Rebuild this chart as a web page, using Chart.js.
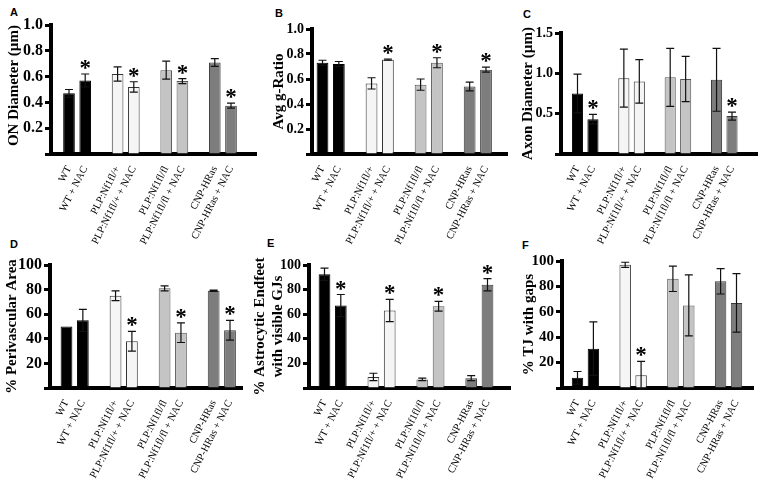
<!DOCTYPE html>
<html>
<head>
<meta charset="utf-8">
<script src="https://cdn.jsdelivr.net/npm/chart.js@4"></script>
<style>
  body { margin: 0; background: #fff; width: 762px; height: 481px; position: relative; overflow: hidden; }
  .panel { position: absolute; }
  .letter { position: absolute; font: bold 11px "Liberation Sans", Arial, sans-serif; color: #000; }
</style>
</head>
<body>
<div class="letter" style="left:10px;top:6px">A</div>
<div class="letter" style="left:275px;top:7px">B</div>
<div class="letter" style="left:523px;top:8px">C</div>
<div class="letter" style="left:10px;top:238px">D</div>
<div class="letter" style="left:267px;top:237px">E</div>
<div class="letter" style="left:522px;top:239px">F</div>

<div class="panel" id="pD"><canvas id="cD"></canvas></div>
<div class="panel" id="pE"><canvas id="cE"></canvas></div>
<div class="panel" id="pF"><canvas id="cF"></canvas></div>
<div class="panel" id="pA"><canvas id="cA"></canvas></div>
<div class="panel" id="pB"><canvas id="cB"></canvas></div>
<div class="panel" id="pC"><canvas id="cC"></canvas></div>

<script>
// ---------------------------------------------------------------------------
// Data
// ---------------------------------------------------------------------------

const groups = ['WT', 'WT + NAC', 'PLP:Nf1fl/+', 'PLP:Nf1fl/+ + NAC',
                'PLP:Nf1fl/fl', 'PLP:Nf1fl/fl + NAC', 'CNP-HRas', 'CNP-HRas + NAC'];

const onDiameter    = [0.47, 0.57, 0.62, 0.52, 0.65, 0.565, 0.71, 0.375];
const onDiameterErr = [0.03, 0.05, 0.055, 0.04, 0.07, 0.02, 0.03, 0.02];
const onDiameterSig = [0, 1, 0, 1, 0, 1, 0, 1];

const gRatio    = [0.73, 0.72, 0.565, 0.755, 0.555, 0.73, 0.54, 0.675];
const gRatioErr = [0.02, 0.02, 0.045, 0.005, 0.045, 0.04, 0.035, 0.02];
const gRatioSig = [0, 0, 0, 1, 0, 1, 0, 1];

const axonDiameter    = [0.75, 0.43, 0.94, 0.90, 0.95, 0.93, 0.92, 0.47];
const axonDiameterErr = [0.24, 0.06, 0.36, 0.27, 0.36, 0.28, 0.39, 0.05];
const axonDiameterSig = [0, 1, 0, 0, 0, 0, 0, 1];

const perivascular    = [50, 55, 75, 38, 81, 45, 79, 47];
const perivascularErr = [0, 9, 4, 8, 2, 8, 0.5, 8];
const perivascularSig = [0, 0, 0, 1, 0, 1, 0, 1];

const endfeetGJ    = [92.5, 67, 9, 63, 7, 66.5, 8, 84];
const endfeetGJErr = [5, 9, 3, 9, 1, 4, 2, 5];
const endfeetGJSig = [0, 1, 0, 1, 0, 1, 0, 1];

const tjGaps    = [8, 31, 97, 10, 86, 65, 84, 67];
const tjGapsErr = [5, 21, 2, 11, 10, 24, 10, 23];
const tjGapsSig = [0, 0, 0, 1, 0, 0, 0, 0];

const barFill   = ['#000000', '#000000', '#f5f5f5', '#f5f5f5', '#c4c4c4', '#c4c4c4', '#7d7d7d', '#7d7d7d'];
const barBorder = ['#000000', '#000000', '#333333', '#333333', '#555555', '#555555', '#3a3a3a', '#3a3a3a'];

// ---------------------------------------------------------------------------
// Panel layout (page pixels)
// ---------------------------------------------------------------------------

const panels = [
  { id: 'A', title: 'ON Diameter (\u00b5m)', data: onDiameter, err: onDiameterErr, sig: onDiameterSig,
    yMax: 1.0, step: 0.2, dec: 1, box: [0, 0, 258, 252], area: [51, 256, 25, 154], first: 69, last: 231,
    tOff: 5, tAlign: 'end', tick: 16 },
  { id: 'B', title: 'Avg g-Ratio', data: gRatio, err: gRatioErr, sig: gRatioSig,
    yMax: 1.0, step: 0.2, dec: 1, box: [255, 0, 254, 252], area: [312, 507, 29, 154], first: 322.5, last: 486,
    tOff: 15, tick: 14 },
  { id: 'C', title: 'Axon Diameter (\u00b5m)', data: axonDiameter, err: axonDiameterErr, sig: axonDiameterSig,
    yMax: 1.5, step: 0.5, dec: 1, box: [508, 0, 254, 252], area: [561, 757, 33, 154], first: 577.5, last: 732,
    tOff: 11, tick: 14 },
  { id: 'D', title: '% Perivascular Area', data: perivascular, err: perivascularErr, sig: perivascularSig,
    yMax: 100, step: 20, dec: 0, box: [0, 238, 246, 243], area: [50, 242, 265, 388], first: 66.5, last: 230,
    tOff: 3, tick: 16 },
  { id: 'E', title: ['% Astrocytic Endfeet', 'with visible GJs'], data: endfeetGJ, err: endfeetGJErr, sig: endfeetGJSig,
    yMax: 100, step: 20, dec: 0, box: [250, 238, 262, 243], area: [309, 510, 265, 388], first: 324.5, last: 487.5,
    tOff: 1, tick: 14 },
  { id: 'F', title: '% TJ with gaps', data: tjGaps, err: tjGapsErr, sig: tjGapsSig,
    yMax: 100, step: 20, dec: 0, box: [508, 238, 254, 243], area: [562, 753, 261, 388], first: 577.5, last: 736.5,
    tOff: 12, tick: 15 },
];

// one empty slot between each pair of bars
const slot = i => i + Math.floor(i / 2);

// ---------------------------------------------------------------------------
// Error bars + significance stars
// ---------------------------------------------------------------------------

const errorBars = {
  id: 'errorBars',
  afterDatasetsDraw(chart, args, opts) {
    const { ctx } = chart;
    const y = chart.scales.y;
    const meta = chart.getDatasetMeta(0);
    ctx.save();
    ctx.strokeStyle = '#111';
    ctx.lineWidth = 1.2;
    ctx.fillStyle = '#000';
    ctx.font = 'bold 23px "Liberation Serif", "Times New Roman", serif';
    ctx.textAlign = 'center';
    ctx.textBaseline = 'alphabetic';
    meta.data.forEach((bar, i) => {
      const v = opts.values[i], e = opts.err[i];
      const top = y.getPixelForValue(v + e);
      if (e > 0) {
        const bot = y.getPixelForValue(v - e);
        ctx.beginPath();
        ctx.moveTo(bar.x, top); ctx.lineTo(bar.x, bot);
        ctx.moveTo(bar.x - 4, top); ctx.lineTo(bar.x + 4, top);
        ctx.moveTo(bar.x - 4, bot); ctx.lineTo(bar.x + 4, bot);
        ctx.stroke();
      }
      if (opts.sig[i]) ctx.fillText('*', bar.x, top + 1);
    });
    ctx.restore();
  }
};

// ---------------------------------------------------------------------------
// Charts
// ---------------------------------------------------------------------------

const serif = '"Liberation Serif", "Times New Roman", serif';

panels.forEach(p => {
  const [bx, by, bw, bh] = p.box;
  const [l, r, t, b] = p.area;
  const wrap = document.getElementById('p' + p.id);
  wrap.style.left = bx + 'px';
  wrap.style.top = by + 'px';
  wrap.style.width = bw + 'px';
  wrap.style.height = bh + 'px';

  const lastSlot = slot(groups.length - 1);
  const unit = (p.last - p.first) / lastSlot;
  const xMin = -(p.first - l) / unit;
  const xMax = lastSlot + (r - p.last) / unit;

  new Chart(document.getElementById('c' + p.id), {
    type: 'bar',
    data: {
      datasets: [{
        data: p.data.map((v, i) => ({ x: slot(i), y: v })),
        backgroundColor: barFill,
        borderColor: barBorder,
        borderWidth: 1,
        barPercentage: 0.72,
        categoryPercentage: 1,
      }]
    },
    options: {
      responsive: true,
      maintainAspectRatio: false,
      animation: false,
      layout: { padding: { top: t - by, right: bx + bw - r, left: 0, bottom: 0 } },
      plugins: {
        legend: { display: false },
        tooltip: { enabled: false },
        errorBars: { values: p.data, err: p.err, sig: p.sig },
      },
      scales: {
        x: {
          type: 'linear',
          min: xMin,
          max: xMax,
          offset: false,
          grid: { display: false },
          border: { display: true, color: '#000', width: 4 },
          afterBuildTicks: s => { s.ticks = groups.map((g, i) => ({ value: slot(i) })); },
          afterFit: s => { s.height = by + bh - b; },
          ticks: {
            autoSkip: false,
            minRotation: 63,
            maxRotation: 63,
            padding: 2,
            color: '#000',
            font: { family: serif, size: 10.5 },
            callback: (v, i) => groups[i],
          },
        },
        y: {
          min: 0,
          max: p.yMax,
          grid: { display: true, drawOnChartArea: false, drawTicks: true, tickLength: 6, tickWidth: 3, color: '#000' },
          border: { display: true, color: '#000', width: 4 },
          afterFit: s => { s.width = l - bx; },
          title: {
            display: true,
            text: p.title,
            align: p.tAlign || 'center',
            color: '#000',
            font: { family: serif, size: 15, weight: 'bold' },
            padding: { top: p.tOff, bottom: 0 },
          },
          ticks: {
            stepSize: p.step,
            padding: 2,
            color: '#000',
            font: { family: serif, size: p.tick, weight: 'bold' },
            callback: v => v === 0 ? '' : Number(v).toFixed(p.dec),
          },
        },
      },
    },
    plugins: [errorBars],
  });
});
</script>
</body>
</html>
